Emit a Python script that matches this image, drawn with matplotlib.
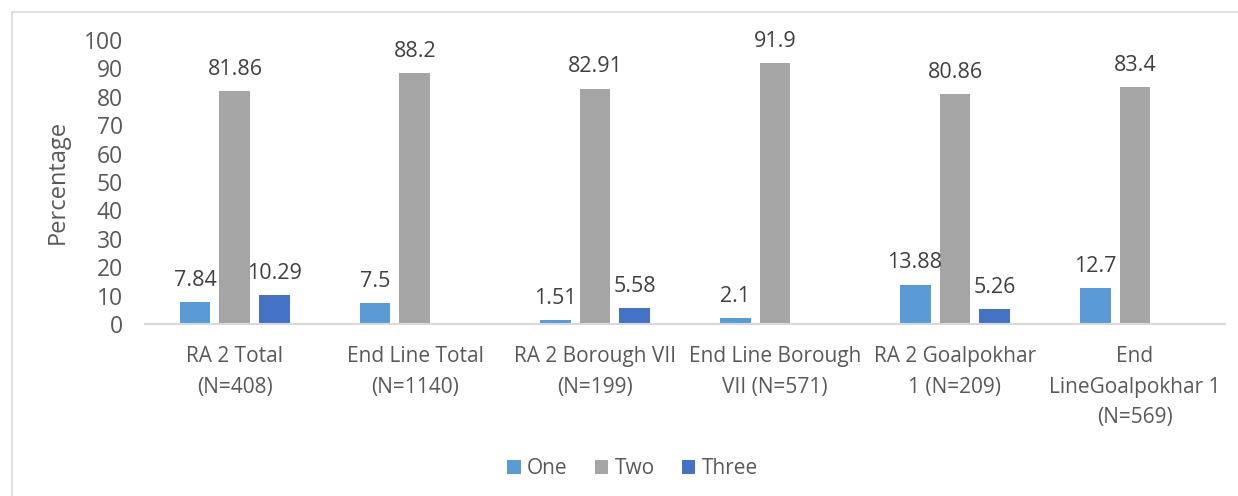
import numpy as np
import matplotlib
matplotlib.use("Agg")
import matplotlib.pyplot as plt
from matplotlib.patches import Rectangle

plt.rcParams['font.family'] = ['Open Sans', 'DejaVu Sans']

categories = ["RA 2 Total\n(N=408)", "End Line Total\n(N=1140)", "RA 2 Borough VII\n(N=199)",
              "End Line Borough\nVII (N=571)", "RA 2 Goalpokhar\n1 (N=209)",
              "End\nLineGoalpokhar 1\n(N=569)"]
one = [7.84, 7.5, 1.51, 2.1, 13.88, 12.7]
two = [81.86, 88.2, 82.91, 91.9, 80.86, 83.4]
three = [10.29, np.nan, 5.58, np.nan, 5.26, np.nan]
series_names = ["One", "Two", "Three"]
colors = ["#5B9BD5", "#A5A5A5", "#4472C4"]

fig = plt.figure(figsize=(12.38, 4.96), dpi=100)
ax = fig.add_axes([0.1171, 0.3468, 0.8724, 0.5726])

# light frame around the whole chart
fig.patches.append(Rectangle((12 / 1238, -0.1), 1.2, 1 - 12 / 496 + 0.1,
                             transform=fig.transFigure, fill=False,
                             edgecolor="#D9D9D9", linewidth=1.2))

x = np.arange(len(categories))
width = 0.172
pitch = 0.222
for i, (vals, name, col) in enumerate(zip([one, two, three], series_names, colors)):
    pos = x + (i - 1) * pitch
    ax.bar(pos, vals, width, color=col, label=name)
    for p, v in zip(pos, vals):
        if np.isnan(v):
            continue
        ax.annotate(f"{v:g}", (p, v), xytext=(0, 8), textcoords="offset points",
                    ha="center", va="bottom", fontsize=15.5, color="#404040")

ax.set_xlim(-0.5, len(categories) - 0.5)
ax.set_ylim(0, 100)
ax.set_yticks(range(0, 101, 10))
ax.set_xticks(x)
ax.set_xticklabels(categories, fontsize=15, color="#595959", linespacing=1.6)
ax.tick_params(axis="y", labelsize=16.5, labelcolor="#595959", length=0, pad=16)
ax.tick_params(axis="x", length=0, pad=16)
for s in ["top", "right", "left"]:
    ax.spines[s].set_visible(False)
ax.spines["bottom"].set_color("#D9D9D9")
ax.spines["bottom"].set_linewidth(1.5)
ax.set_ylabel("Percentage", fontsize=17, color="#595959", labelpad=10)

fig.legend(loc="center", bbox_to_anchor=(0.511, 0.055), ncol=3, frameon=False,
           fontsize=15, handlelength=0.65, handleheight=0.65, handletextpad=0.3,
           columnspacing=1.3, labelcolor="#595959")

fig.savefig("out.png", dpi=100)
